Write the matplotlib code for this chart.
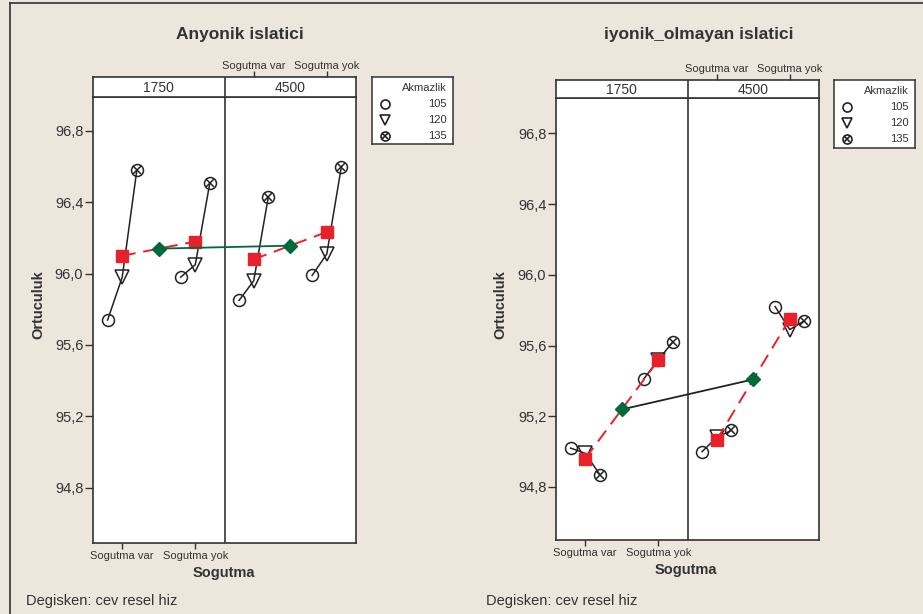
import matplotlib
matplotlib.use("Agg")
import matplotlib.pyplot as plt
from matplotlib.lines import Line2D
import numpy as np

plt.rcParams['font.family'] = ['Liberation Sans', 'DejaVu Sans']

# ---------------- data ----------------
sogutma = ["Sogutma var", "Sogutma yok"]
hiz = ["1750", "4500"]
akmazlik = ["105", "120", "135"]
y_ticks = [94.8, 95.2, 95.6, 96.0, 96.4, 96.8]

# Ortuculuk by Akmazlik (105, 120, 135)
anyonik_1750_var = [95.74, 95.98, 96.58]
anyonik_1750_yok = [95.98, 96.05, 96.51]
anyonik_4500_var = [95.85, 95.96, 96.43]
anyonik_4500_yok = [95.99, 96.11, 96.60]

iyonik_1750_var = [95.02, 94.99, 94.87]
iyonik_1750_yok = [95.41, 95.52, 95.62]
iyonik_4500_var = [95.00, 95.08, 95.12]
iyonik_4500_yok = [95.82, 95.69, 95.74]

# ---------------- style ----------------
W, H = 923, 614
BG = '#ECE6DD'
EDGE = '#333333'
TXT = '#333333'
RED = '#E8202A'
GREEN = '#00693C'

fig = plt.figure(figsize=(W / 100, H / 100), dpi=100)
fig.patch.set_facecolor(BG)


def px_axes(x0, y0, x1, y1):
    return fig.add_axes([x0 / W, 1 - y1 / H, (x1 - x0) / W, (y1 - y0) / H])


FACET_OFF = 1.8
CAT_POS = [1.0, 2.0]
DODGE = [-0.2, 0.0, 0.2]
XLIM = (0.6, 4.2)
DIV = 2.4


def draw_panel(box, strip_top, legend_box, data, ylim, conn_color,
               title, title_xy, ylabel_x, xlabel_xy, note_x):
    x0, y0, x1, y1 = box
    ax = px_axes(x0, y0, x1, y1)
    ax.set_facecolor('white')
    ax.set_xlim(*XLIM)
    ax.set_ylim(*ylim)
    for s in ax.spines.values():
        s.set_color(EDGE)
        s.set_linewidth(1.2)
    ax.axvline(DIV, color=EDGE, lw=1.2, zorder=1)

    ax.set_yticks(y_ticks)
    ax.set_yticklabels([f"{v:.1f}".replace('.', ',') for v in y_ticks],
                       fontsize=10.5, color=TXT)
    ax.set_xticks([CAT_POS[0], CAT_POS[1]])
    ax.set_xticklabels(sogutma, fontsize=8, color=TXT)
    ax.tick_params(axis='y', length=6, width=1, color=EDGE, pad=1)
    ax.tick_params(axis='x', length=4, width=1, color=EDGE, pad=2)

    diamonds = []
    for k in range(2):
        squares = []
        for j in range(2):
            base = CAT_POS[j] + k * FACET_OFF
            ys = data[k][j]
            xs = [base + d for d in DODGE]
            ax.plot(xs, ys, color='#222222', lw=1.1, zorder=2)
            ax.plot(xs[0], ys[0], marker='o', ms=8.6, mfc='none',
                    mec='#222222', mew=1.1, zorder=3)
            ax.plot(xs[1], ys[1], marker='v', ms=9.5, mfc='none',
                    mec='#222222', mew=1.1, zorder=3)
            ax.plot(xs[2], ys[2], marker='o', ms=8.6, mfc='none',
                    mec='#222222', mew=1.1, zorder=3)
            ax.plot(xs[2], ys[2], marker='x', ms=5.5, mec='#222222',
                    mew=1.1, zorder=3)
            squares.append((base, float(np.mean(ys))))
        sx = [p[0] for p in squares]
        sy = [p[1] for p in squares]
        ax.plot(sx, sy, color=RED, lw=1.4, ls=(0, (7, 4)), zorder=4)
        ax.plot(sx, sy, ls='none', marker='s', ms=8.6, mfc=RED, mec=RED,
                zorder=5)
        diamonds.append((float(np.mean(sx)), float(np.mean(sy))))
    dx = [p[0] for p in diamonds]
    dy = [p[1] for p in diamonds]
    ax.plot(dx, dy, color=conn_color, lw=1.3, zorder=6)
    ax.plot(dx, dy, ls='none', marker='D', ms=7, mfc=GREEN, mec=GREEN,
            zorder=7)

    # strip
    st = px_axes(x0, strip_top, x1, y0)
    st.set_facecolor('white')
    st.set_xlim(*XLIM)
    st.set_ylim(0, 1)
    for s in st.spines.values():
        s.set_color(EDGE)
        s.set_linewidth(1.2)
    st.axvline(DIV, color=EDGE, lw=1.2)
    for k in range(2):
        st.text(CAT_POS[0] + k * FACET_OFF + 0.5, 0.45, hiz[k],
                ha='center', va='center', fontsize=10, color=TXT)
    st.set_yticks([])
    st.xaxis.tick_top()
    st.set_xticks([CAT_POS[0] + FACET_OFF, CAT_POS[1] + FACET_OFF])
    st.set_xticklabels(sogutma, fontsize=8, color=TXT)
    st.tick_params(axis='x', length=4, width=1, color=EDGE, pad=0.5)

    # legend
    lx0, ly0, lx1, ly1 = legend_box
    lg = px_axes(lx0, ly0, lx1, ly1)
    lg.set_facecolor('white')
    lg.set_xlim(0, lx1 - lx0)
    lg.set_ylim(ly1 - ly0, 0)
    lg.set_xticks([])
    lg.set_yticks([])
    for s in lg.spines.values():
        s.set_color(EDGE)
        s.set_linewidth(1.1)
    rx = lx1 - lx0 - 6
    lg.text(rx, 11, "Akmazlik", ha='right', va='center', fontsize=8,
            color=TXT)
    rows = [27, 43, 59]
    for r, lab in zip(rows, akmazlik):
        lg.text(rx, r, lab, ha='right', va='center', fontsize=8, color=TXT)
    lg.plot(13, rows[0], marker='o', ms=6.5, mfc='none', mec='#222222',
            mew=1.2)
    lg.plot(13, rows[1], marker='v', ms=7.5, mfc='none', mec='#222222',
            mew=1.2)
    lg.plot(13, rows[2], marker='o', ms=6.5, mfc='none', mec='#222222',
            mew=1.2)
    lg.plot(13, rows[2], marker='x', ms=4, mec='#222222', mew=1.2)

    # texts
    fig.text(title_xy[0] / W, 1 - title_xy[1] / H, title, ha='center',
             va='center', fontsize=12.5, fontweight='bold', color=TXT)
    fig.text(ylabel_x / W, 1 - 305 / H, "Ortuculuk", rotation=90,
             ha='center', va='center', fontsize=10.5, fontweight='bold',
             color=TXT)
    fig.text(xlabel_xy[0] / W, 1 - xlabel_xy[1] / H, "Sogutma",
             ha='center', va='center', fontsize=10.5, fontweight='bold',
             color=TXT)
    fig.text(note_x / W, 1 - 601 / H, "Degisken: cev resel hiz",
             ha='left', va='center', fontsize=10.5, color=TXT)


anyonik = [[anyonik_1750_var, anyonik_1750_yok],
           [anyonik_4500_var, anyonik_4500_yok]]
iyonik = [[iyonik_1750_var, iyonik_1750_yok],
          [iyonik_4500_var, iyonik_4500_yok]]

draw_panel((93, 97, 356, 543), 77, (372, 77, 453, 144), anyonik,
           (94.49, 96.99), GREEN, "Anyonik islatici", (240, 35), 38,
           (224, 573), 26)
draw_panel((556, 98, 819, 540), 80, (834, 80, 915, 148), iyonik,
           (94.50, 97.0), '#222222', "iyonik_olmayan islatici", (699, 35),
           500, (686, 570), 486)

# outer frame lines
fig.add_artist(Line2D([10 / W, 1], [1 - 3 / H, 1 - 3 / H], color=EDGE,
                      lw=1.2, transform=fig.transFigure))
fig.add_artist(Line2D([10 / W, 10 / W], [1 - 3 / H, 0], color=EDGE,
                      lw=1.2, transform=fig.transFigure))

fig.savefig("out.png", dpi=100, facecolor=BG)
